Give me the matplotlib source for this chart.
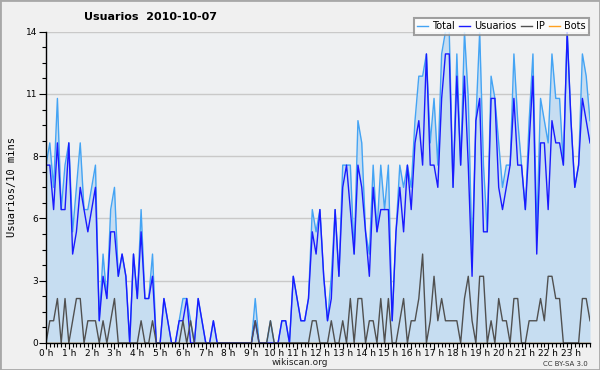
import numpy as np
import matplotlib
matplotlib.use("Agg")
import matplotlib.pyplot as plt
from matplotlib.patches import Rectangle

# ---- data (10-minute intervals, 00:00 .. 23:50) ----
usuarios = [8, 8, 6, 9, 6, 6, 9, 4, 5, 7, 6, 5, 6, 7, 1, 3, 2, 5, 5, 3, 4, 3, 0, 4,
            2, 5, 2, 2, 3, 0, 0, 2, 1, 0, 0, 1, 1, 2, 0, 0, 2, 1, 0, 0, 1, 0, 0, 0,
            0, 0, 0, 0, 0, 0, 0, 1, 0, 0, 0, 0, 0, 0, 1, 1, 0, 3, 2, 1, 1, 2, 5, 4,
            6, 3, 1, 2, 6, 3, 7, 8, 6, 4, 8, 7, 5, 3, 7, 5, 6, 6, 6, 1, 5, 7, 5, 8,
            6, 9, 10, 8, 13, 8, 8, 7, 11, 13, 13, 7, 12, 8, 12, 8, 3, 10, 11, 5, 5, 11, 11, 7,
            6, 7, 8, 11, 8, 8, 6, 9, 12, 4, 9, 9, 6, 10, 9, 9, 8, 14, 10, 7, 8, 11, 10, 9]
ip = [0, 1, 1, 2, 0, 2, 0, 1, 2, 2, 0, 1, 1, 1, 0, 1, 0, 1, 2, 0, 0, 0, 0, 0,
      0, 1, 0, 0, 1, 0, 0, 0, 0, 0, 0, 0, 1, 0, 1, 0, 0, 0, 0, 0, 0, 0, 0, 0,
      0, 0, 0, 0, 0, 0, 0, 1, 0, 0, 0, 1, 0, 0, 0, 0, 0, 0, 0, 0, 0, 0, 1, 1,
      0, 0, 0, 1, 0, 0, 1, 0, 2, 0, 2, 2, 0, 1, 1, 0, 2, 0, 2, 0, 0, 1, 2, 0,
      1, 1, 2, 4, 0, 1, 3, 1, 2, 1, 1, 1, 1, 0, 2, 3, 1, 0, 3, 3, 0, 1, 0, 2,
      1, 1, 0, 2, 2, 0, 0, 1, 1, 1, 2, 1, 3, 3, 2, 2, 0, 0, 0, 0, 0, 2, 2, 1]
total = [8, 9, 7, 11, 6, 8, 9, 5, 7, 9, 6, 6, 7, 8, 1, 4, 2, 6, 7, 3, 4, 3, 0, 4,
         2, 6, 2, 2, 4, 0, 0, 2, 1, 0, 0, 1, 2, 2, 1, 0, 2, 1, 0, 0, 1, 0, 0, 0,
         0, 0, 0, 0, 0, 0, 0, 2, 0, 0, 0, 1, 0, 0, 1, 1, 0, 3, 2, 1, 1, 2, 6, 5,
         6, 3, 1, 3, 6, 3, 8, 8, 8, 4, 10, 9, 5, 4, 8, 5, 8, 6, 8, 1, 5, 8, 7, 8,
         7, 10, 12, 12, 13, 9, 11, 8, 13, 14, 14, 7, 13, 8, 14, 11, 4, 10, 14, 8, 5, 12, 11, 9,
         7, 8, 8, 13, 10, 8, 6, 10, 13, 5, 11, 10, 9, 13, 11, 11, 8, 14, 10, 7, 8, 13, 12, 10]
bots = [0] * 144

hour_labels = [f"{h} h" for h in range(24)]
ytick_labels = ["0", "3", "6", "8", "11", "14"]
title = "Usuarios  2010-10-07"
ylabel = "Usuarios/10 mins"
series_names = ["Total", "Usuarios", "IP", "Bots"]

# ---- figure ----
W, H = 600, 370
fig = plt.figure(figsize=(W / 100, H / 100), dpi=100)
fig.patch.set_facecolor("#f0f0f0")
fig.patches.append(Rectangle((0, 0), 1, 1, transform=fig.transFigure,
                             fill=False, edgecolor="#a8a8a8", lw=2.0, zorder=10))

ax = fig.add_axes([46 / W, 1 - 343 / H, 544 / W, (343 - 31.7) / H])
ax.set_facecolor("#eef0f2")

x = np.arange(len(total))
c_fill = "#c6ddf1"
c_total = "#44a4f4"
c_user = "#1a1aff"
c_ip = "#505050"
c_bots = "#ffa020"

ax.fill_between(x, total, 0, color=c_fill, lw=0, zorder=1)
ax.plot(x, total, color=c_total, lw=1.0, label=series_names[0], zorder=2)
ax.plot(x, usuarios, color=c_user, lw=1.0, label=series_names[1], zorder=2.1)
ax.plot(x, ip, color=c_ip, lw=1.0, label=series_names[2], zorder=2.2)
ax.plot(x, bots, color=c_bots, lw=1.0, label=series_names[3], zorder=2.0)

ax.set_xlim(0, len(total) - 1)
ax.set_ylim(0, 14)

yt = np.linspace(0, 14, len(ytick_labels))
ax.set_yticks(yt)
ax.set_yticklabels(ytick_labels)
ax.set_yticks(np.arange(0, 14.01, 0.7), minor=True)
ax.yaxis.grid(True, which="major", color="#c9c9c9", lw=1.0, zorder=0.5)
ax.set_axisbelow(True)

ax.set_xticks(np.arange(0, len(total), 6))
ax.set_xticklabels(hour_labels)
ax.set_xticks(np.arange(0, len(total), 1), minor=True)

for s in ["top", "right"]:
    ax.spines[s].set_visible(False)
for s in ["left", "bottom"]:
    ax.spines[s].set_color("black")
    ax.spines[s].set_linewidth(1.0)

ax.tick_params(axis="x", which="major", length=4, width=0.8, pad=0,
               labelsize=6.5, colors="black")
ax.tick_params(axis="x", which="minor", length=3, width=0.8)
ax.tick_params(axis="y", which="major", length=5, width=0.8, pad=1,
               labelsize=6.5, colors="black")
ax.tick_params(axis="y", which="minor", length=3, width=0.8)

fig.text(12 / W, 1 - 187 / H, ylabel, rotation=90, ha="center", va="center",
         fontsize=7.5, family="DejaVu Sans Mono")
fig.text(151 / W, 1 - 17 / H, title, ha="center", va="center",
         fontsize=8, fontweight="bold")
fig.text(300 / W, 1 - 362.5 / H, "wikiscan.org", ha="center", va="center",
         fontsize=6.5, color="#222222")
fig.text(588 / W, 1 - 364 / H, "CC BY-SA 3.0", ha="right", va="center",
         fontsize=5, color="#333333")

leg = fig.legend(loc="upper right", bbox_to_anchor=(589 / W, 1 - 18 / H),
                 ncol=4, fontsize=7, frameon=True, fancybox=False,
                 handlelength=1.1, handletextpad=0.4, columnspacing=0.5,
                 borderpad=0.35, borderaxespad=0, shadow=False)
leg.get_frame().set_edgecolor("#8a8a8a")
leg.get_frame().set_linewidth(1.5)
leg.get_frame().set_facecolor("white")

fig.savefig("out.png", dpi=100, facecolor=fig.get_facecolor())
